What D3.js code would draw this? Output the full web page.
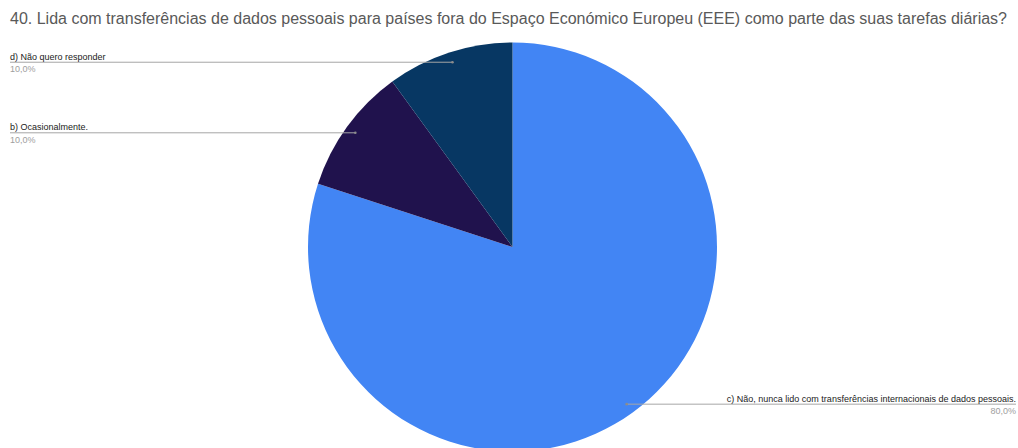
<!DOCTYPE html>
<html>
<head>
<meta charset="utf-8">
<script src="https://cdn.jsdelivr.net/npm/d3@7"></script>
<style>
  html, body { margin: 0; padding: 0; background: #fff; }
  svg { display: block; }
</style>
</head>
<body>
<svg id="chart" width="1018" height="448"></svg>
<script>
const titleText = "40. Lida com transferências de dados pessoais para países fora do Espaço Económico Europeu (EEE) como parte das suas tarefas diárias?";
const categories = [
  "c) Não, nunca lido com transferências internacionais de dados pessoais.",
  "b) Ocasionalmente.",
  "d) Não quero responder"
];
const values = [80, 10, 10];
const percentLabels = ["80,0%", "10,0%", "10,0%"];
const colors = ["#4285f4", "#20124d", "#073763"];

const W = 1018, H = 448;
const cx = 512.5, cy = 247, R = 204.5;
const svg = d3.select("#chart");

svg.append("text")
  .attr("x", 10).attr("y", 24)
  .attr("font-family", "Liberation Sans, Arial, sans-serif")
  .attr("font-size", 16)
  .attr("fill", "#595959")
  .text(titleText);

const data = categories.map((c, i) => ({ label: c, value: values[i], pct: percentLabels[i], color: colors[i] }));
const pie = d3.pie().value(d => d.value).sort(null);
const arcs = pie(data);
const arc = d3.arc().innerRadius(0).outerRadius(R);

const g = svg.append("g").attr("transform", `translate(${cx},${cy})`);
g.selectAll("path").data(arcs).join("path")
  .attr("d", arc)
  .attr("fill", d => d.data.color);

const dotArc = d3.arc().innerRadius(R * 0.95).outerRadius(R * 0.95);
arcs.forEach(a => {
  const [px, py] = dotArc.centroid(a);
  const x = cx + px, y = cy + py;
  const right = px > 0;
  const xEnd = right ? W - 2 : 10;
  svg.append("line")
    .attr("x1", x).attr("y1", y).attr("x2", xEnd).attr("y2", y)
    .attr("stroke", "#a6a6a6").attr("stroke-width", 1);
  svg.append("circle").attr("cx", x).attr("cy", y).attr("r", 1.3).attr("fill", "#8c8c8c");
  svg.append("text")
    .attr("x", xEnd).attr("y", y - 2.5)
    .attr("text-anchor", right ? "end" : "start")
    .attr("font-family", "Liberation Sans, Arial, sans-serif")
    .attr("font-size", 9).attr("fill", "#222")
    .text(a.data.label);
  svg.append("text")
    .attr("x", xEnd).attr("y", y + 10)
    .attr("text-anchor", right ? "end" : "start")
    .attr("font-family", "Liberation Sans, Arial, sans-serif")
    .attr("font-size", 9).attr("fill", "#9e9e9e")
    .text(a.data.pct);
});
</script>
</body>
</html>
